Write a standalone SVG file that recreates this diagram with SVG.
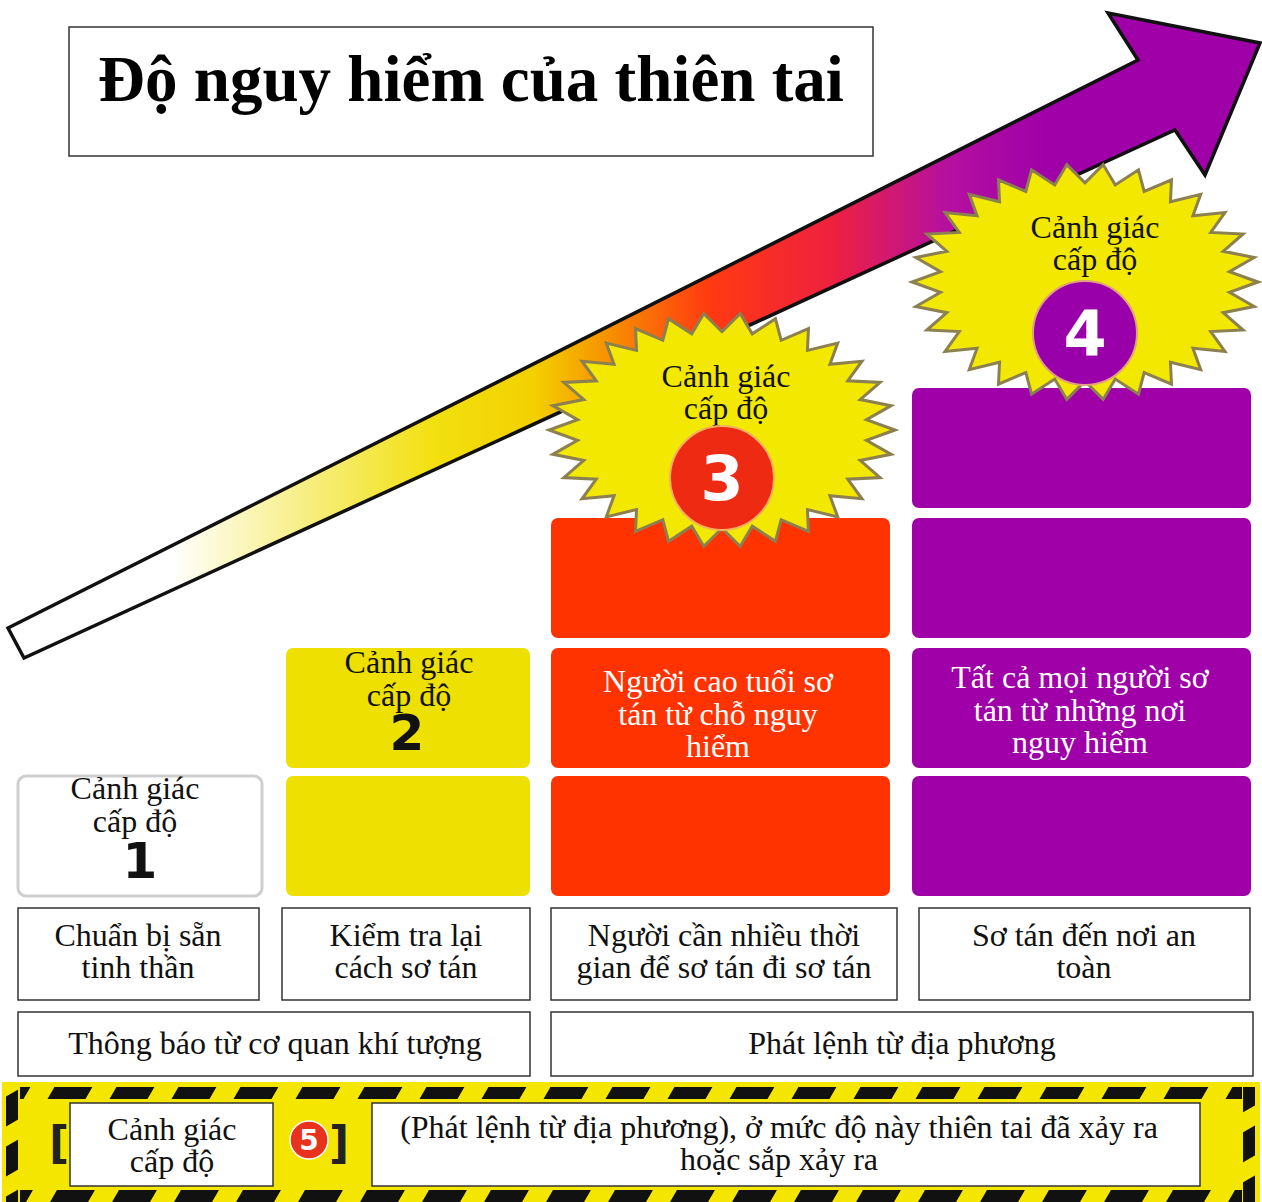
<svg xmlns="http://www.w3.org/2000/svg" xmlns:xlink="http://www.w3.org/1999/xlink" width="1262" height="1202" viewBox="0 0 1262 1202">
<style>
.t{font-family:"Liberation Serif","DejaVu Serif",serif;font-size:32px;fill:#111;text-anchor:middle}
.w{fill:#fff}
.d{font-family:"DejaVu Sans","Liberation Sans",sans-serif;font-weight:bold;text-anchor:middle}
.box{fill:#fff;stroke:#333;stroke-width:1.5}
.pur{fill:#a000a8}
.red{fill:#ff3300}
.yel{fill:#eee000}
.star{fill:#f3e800;stroke:#8c8050;stroke-width:3;vector-effect:non-scaling-stroke;stroke-linejoin:miter}
</style>
<defs>
<linearGradient id="ag" gradientUnits="userSpaceOnUse" x1="8" y1="0" x2="1260" y2="0">
<stop offset="0" stop-color="#ffffff"/>
<stop offset="0.13" stop-color="#ffffff"/>
<stop offset="0.24" stop-color="#f7ee80"/>
<stop offset="0.34" stop-color="#f2e010"/>
<stop offset="0.42" stop-color="#f3d000"/>
<stop offset="0.48" stop-color="#f79000"/>
<stop offset="0.56" stop-color="#ff3a10"/>
<stop offset="0.66" stop-color="#ee2040"/>
<stop offset="0.75" stop-color="#b510a0"/>
<stop offset="0.83" stop-color="#a000a8"/>
<stop offset="1" stop-color="#a000a8"/>
</linearGradient>
<polygon id="starshape" class="star" points="100,0 83.5,8.8 97.8,20.8 79.9,26 91.4,40.7 72.7,42 80.9,58.8 62.4,56.2 66.9,74.3 49.4,68 50,86.6 34.2,76.7 30.9,95.1 17.5,82.2 10.5,99.5 0,84 -10.5,99.5 -17.5,82.2 -30.9,95.1 -34.2,76.7 -50,86.6 -49.4,68 -66.9,74.3 -62.4,56.2 -80.9,58.8 -72.7,42 -91.4,40.7 -79.9,26 -97.8,20.8 -83.5,8.8 -100,0 -83.5,-8.8 -97.8,-20.8 -79.9,-26 -91.4,-40.7 -72.7,-42 -80.9,-58.8 -62.4,-56.2 -66.9,-74.3 -49.4,-68 -50,-86.6 -34.2,-76.7 -30.9,-95.1 -17.5,-82.2 -10.5,-99.5 0,-84 10.5,-99.5 17.5,-82.2 30.9,-95.1 34.2,-76.7 50,-86.6 49.4,-68 66.9,-74.3 62.4,-56.2 80.9,-58.8 72.7,-42 91.4,-40.7 79.9,-26 97.8,-20.8 83.5,-8.8"/>
<pattern id="hazH" width="62" height="12" patternUnits="userSpaceOnUse" patternTransform="skewX(-30)"><rect width="38" height="12" fill="#111"/></pattern>
<pattern id="hazV" width="12" height="50" patternUnits="userSpaceOnUse" patternTransform="skewY(-30)"><rect width="12" height="30" fill="#111"/></pattern>
</defs>
<rect width="1262" height="1202" fill="#fff"/>

<g id="title">
<rect class="box" x="69" y="27" width="804" height="129"/>
<text x="471" y="101" style="font-family:'Liberation Serif','DejaVu Serif',serif;font-size:65px;font-weight:bold;text-anchor:middle;fill:#000">Độ nguy hiểm của thiên tai</text>
</g>

<g id="arrow">
<polygon points="8,628 1138,60 1108,13 1260,43 1205,175 1175,130 24,658" fill="url(#ag)" stroke="#111" stroke-width="3.5" stroke-linejoin="miter"/>
</g>

<g id="level1">
<rect x="18" y="776" width="244" height="120" rx="8" fill="#fff" stroke="#cfcfcf" stroke-width="3"/>
<text class="t" x="135" y="799">Cảnh giác</text>
<text class="t" x="135" y="832">cấp độ</text>
<text class="d" x="140" y="878" style="font-size:50px;fill:#111">1</text>
</g>

<g id="level2">
<rect class="yel" x="286" y="648" width="244" height="120" rx="7"/>
<rect class="yel" x="286" y="776" width="244" height="120" rx="7"/>
<text class="t" x="409" y="673">Cảnh giác</text>
<text class="t" x="409" y="706">cấp độ</text>
<text class="d" x="407" y="750" style="font-size:50px;fill:#111">2</text>
</g>

<g id="level3">
<rect class="red" x="551" y="518" width="339" height="120" rx="7"/>
<rect class="red" x="551" y="648" width="339" height="120" rx="7"/>
<rect class="red" x="551" y="776" width="339" height="120" rx="7"/>
<text class="t w" x="718" y="692">Người cao tuổi sơ</text>
<text class="t w" x="718" y="725">tán từ chỗ nguy</text>
<text class="t w" x="718" y="757">hiểm</text>
</g>

<g id="level4">
<rect class="pur" x="912" y="388" width="339" height="120" rx="7"/>
<rect class="pur" x="912" y="518" width="339" height="120" rx="7"/>
<rect class="pur" x="912" y="648" width="339" height="120" rx="7"/>
<rect class="pur" x="912" y="776" width="339" height="120" rx="7"/>
<text class="t w" x="1080" y="688">Tất cả mọi người sơ</text>
<text class="t w" x="1080" y="721">tán từ những nơi</text>
<text class="t w" x="1080" y="753">nguy hiểm</text>
</g>

<g id="star3">
<use xlink:href="#starshape" href="#starshape" transform="translate(722,430) scale(1.73,1.17)"/>
<text class="t" x="726" y="387">Cảnh giác</text>
<text class="t" x="726" y="419">cấp độ</text>
<circle cx="722" cy="478" r="52" fill="#ee2a12" stroke="#f5b060" stroke-width="2"/>
<text class="d" x="722" y="500" style="font-size:62px;fill:#fff">3</text>
</g>

<g id="star4">
<use xlink:href="#starshape" href="#starshape" transform="translate(1085,282) scale(1.73,1.18)"/>
<text class="t" x="1095" y="238">Cảnh giác</text>
<text class="t" x="1095" y="270">cấp độ</text>
<circle cx="1085" cy="333" r="52" fill="#9a00aa" stroke="#e0a080" stroke-width="2"/>
<text class="d" x="1085" y="355" style="font-size:62px;fill:#fff">4</text>
</g>

<g id="actions">
<rect class="box" x="18" y="908" width="241" height="92"/>
<text class="t" x="138" y="946">Chuẩn bị sẵn</text>
<text class="t" x="138" y="978">tinh thần</text>
<rect class="box" x="282" y="908" width="248" height="92"/>
<text class="t" x="406" y="946">Kiểm tra lại</text>
<text class="t" x="406" y="978">cách sơ tán</text>
<rect class="box" x="551" y="908" width="346" height="92"/>
<text class="t" x="724" y="946">Người cần nhiều thời</text>
<text class="t" x="724" y="978">gian để sơ tán đi sơ tán</text>
<rect class="box" x="919" y="908" width="331" height="92"/>
<text class="t" x="1084" y="946">Sơ tán đến nơi an</text>
<text class="t" x="1084" y="978">toàn</text>
</g>

<g id="sources">
<rect class="box" x="18" y="1012" width="512" height="64"/>
<text class="t" x="275" y="1054">Thông báo từ cơ quan khí tượng</text>
<rect class="box" x="551" y="1012" width="702" height="64"/>
<text class="t" x="902" y="1054">Phát lệnh từ địa phương</text>
</g>

<g id="level5">
<rect x="2" y="1082" width="1258" height="120" fill="#f5e600"/>
<rect x="20" y="1087" width="1222" height="12" fill="url(#hazH)"/>
<rect x="20" y="1190" width="1222" height="12" fill="url(#hazH)"/>
<rect x="6" y="1087" width="12" height="115" fill="url(#hazV)"/>
<rect x="1243" y="1087" width="12" height="115" fill="url(#hazV)"/>
<text class="d" x="59" y="1158" style="font-size:44px;fill:#222">[</text>
<rect class="box" x="70" y="1103" width="203" height="83"/>
<text class="t" x="172" y="1140">Cảnh giác</text>
<text class="t" x="172" y="1172">cấp độ</text>
<circle cx="309" cy="1140" r="19" fill="#e8321e" stroke="#fff" stroke-width="1.5"/>
<text class="d" x="309" y="1150" style="font-size:28px;fill:#fff">5</text>
<text class="d" x="339" y="1158" style="font-size:44px;fill:#222">]</text>
<rect class="box" x="372" y="1103" width="828" height="83"/>
<text class="t" x="779" y="1138">(Phát lệnh từ địa phương), ở mức độ này thiên tai đã xảy ra</text>
<text class="t" x="779" y="1170">hoặc sắp xảy ra</text>
</g>
</svg>
